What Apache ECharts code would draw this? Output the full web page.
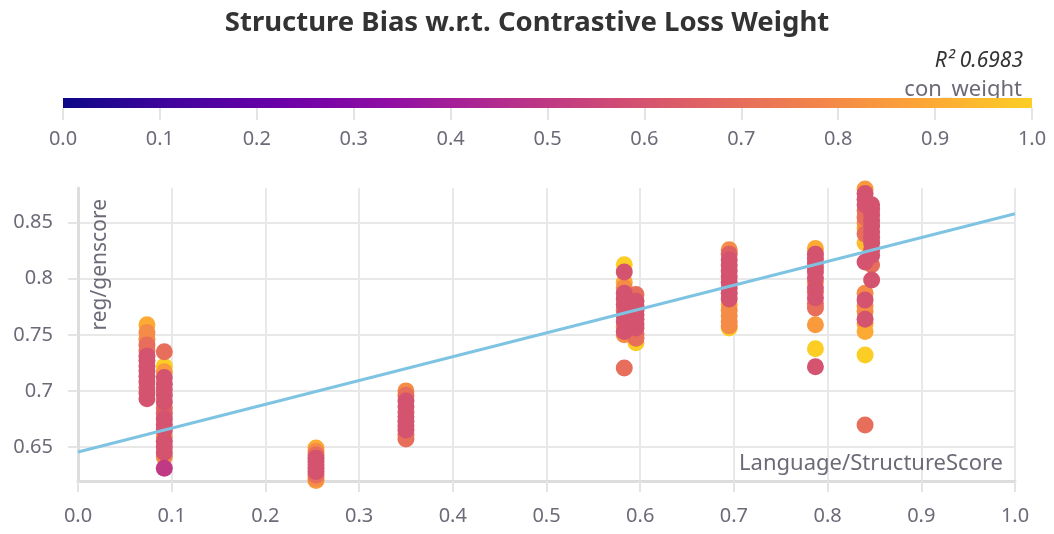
<!DOCTYPE html>
<html>
<head>
<meta charset="utf-8">
<script src="https://cdn.jsdelivr.net/npm/echarts@6/dist/echarts.min.js"></script>
<style>
  html, body { margin: 0; padding: 0; background: #fff; }
  #main { width: 1054px; height: 534px; }
</style>
</head>
<body>
<div id="main"></div>
<script>
// cluster positions (Language/StructureScore) and their points
var clusterX = [0.0736, 0.0921, 0.254, 0.35, 0.583, 0.5955, 0.695, 0.787, 0.840, 0.847];
var clusterY = [
  [0.759, 0.752, 0.746, 0.741, 0.736, 0.731, 0.727, 0.722, 0.718, 0.713, 0.708, 0.703, 0.698, 0.693],
  [0.735, 0.722, 0.717, 0.712, 0.706, 0.701, 0.696, 0.690, 0.685, 0.680, 0.675, 0.670, 0.665, 0.660, 0.655, 0.650, 0.645, 0.641, 0.631],
  [0.649, 0.646, 0.643, 0.640, 0.637, 0.634, 0.631, 0.628, 0.625, 0.622, 0.620],
  [0.700, 0.696, 0.691, 0.686, 0.681, 0.677, 0.673, 0.669, 0.665, 0.661, 0.657],
  [0.8125, 0.806, 0.797, 0.792, 0.787, 0.782, 0.777, 0.772, 0.767, 0.762, 0.757, 0.753, 0.750, 0.7205],
  [0.786, 0.780, 0.776, 0.772, 0.768, 0.764, 0.760, 0.756, 0.751, 0.747, 0.743],
  [0.826, 0.822, 0.817, 0.812, 0.807, 0.802, 0.797, 0.792, 0.787, 0.782, 0.777, 0.772, 0.767, 0.762, 0.758, 0.756],
  [0.827, 0.822, 0.818, 0.814, 0.810, 0.806, 0.801, 0.797, 0.792, 0.788, 0.783, 0.778, 0.774, 0.759, 0.7375, 0.7215],
  [0.880, 0.876, 0.871, 0.866, 0.861, 0.855, 0.850, 0.845, 0.840, 0.832, 0.815, 0.787, 0.781, 0.776, 0.771, 0.764, 0.760, 0.753, 0.732, 0.6696],
  [0.866, 0.862, 0.857, 0.852, 0.847, 0.842, 0.837, 0.832, 0.826, 0.821, 0.8125, 0.799]
];
// con_weight of every point
var clusterW = [
  [0.9, 0.8, 0.8, 0.7, 0.7, 0.6, 0.6, 0.6, 0.6, 0.6, 0.6, 0.65, 0.6, 0.6],
  [0.7, 1.0, 0.85, 0.6, 0.6, 0.6, 0.6, 0.6, 0.7, 0.65, 0.6, 0.6, 0.6, 0.8, 0.6, 0.6, 0.6, 0.8, 0.5],
  [0.9, 0.8, 0.7, 0.6, 0.6, 0.6, 0.6, 0.6, 0.7, 0.8, 0.85],
  [0.8, 0.7, 0.6, 0.6, 0.65, 0.6, 0.6, 0.6, 0.6, 0.7, 0.7],
  [1.0, 0.6, 0.9, 0.8, 0.6, 0.6, 0.6, 0.7, 0.6, 0.6, 0.8, 0.6, 0.8, 0.7],
  [0.7, 0.6, 0.6, 0.6, 0.6, 0.6, 0.6, 0.6, 0.7, 0.7, 1.0],
  [0.8, 0.65, 0.6, 0.6, 0.6, 0.6, 0.6, 0.6, 0.6, 0.6, 0.9, 0.8, 0.8, 0.8, 0.8, 1.0],
  [0.9, 0.6, 0.6, 0.6, 0.6, 0.6, 0.6, 0.8, 0.6, 0.7, 0.6, 0.7, 0.7, 0.85, 1.0, 0.6],
  [0.85, 0.6, 0.6, 0.6, 0.7, 0.7, 0.8, 0.9, 0.7, 0.95, 0.6, 0.8, 0.6, 0.8, 0.8, 0.6, 0.9, 0.9, 1.0, 0.7],
  [0.6, 0.6, 0.6, 0.6, 0.6, 0.6, 0.6, 0.6, 0.6, 0.6, 0.7, 0.6]
];
// regression line ends
var regX = [0, 1];
var regY = [0.6455, 0.858];
var r2 = '0.6983';
var yTicks = [0.65, 0.7, 0.75, 0.8, 0.85];
// plasma, cut at 0.9
var plasma = ['#0d0887', '#41049d', '#6a00a8', '#8f0da4', '#b12a90', '#cc4778', '#e16462', '#f2844b', '#fca636', '#fcce25'];

var points = [];
for (var i = 0; i < clusterX.length; i++) {
  for (var j = 0; j < clusterY[i].length; j++) {
    points.push([clusterX[i], clusterY[i][j], clusterW[i][j]]);
  }
}
points.sort(function (a, b) { return b[2] - a[2]; });

var stops = plasma.map(function (c, k) { return { offset: k / (plasma.length - 1), color: c }; });

var font = 'Noto Sans';
var grey = '#6b6b78';

var myChart = echarts.init(document.getElementById('main'));
var option = {
  animation: false,
  backgroundColor: '#fff',
  textStyle: { fontFamily: font },
  title: {
    text: 'Structure Bias w.r.t. Contrastive Loss Weight',
    left: 'center', top: 4,
    textStyle: { fontFamily: font, fontSize: 27.5, fontWeight: 'bold', color: '#333' }
  },
  grid: [
    { left: 78, right: 39, top: 188, bottom: 53 },
    { left: 63, right: 22, top: 98, height: 10 }
  ],
  visualMap: {
    show: false, type: 'continuous', min: 0, max: 1, dimension: 2, seriesIndex: 0,
    inRange: { color: plasma }
  },
  xAxis: [
    {
      gridIndex: 0, type: 'value', min: 0, max: 1, interval: 0.1,
      axisLine: { show: true, lineStyle: { color: '#dddddd', width: 3 } },
      axisTick: { show: true, length: 11, lineStyle: { color: '#e4e4e4', width: 2 } },
      axisLabel: { color: grey, fontSize: 20, margin: 25, formatter: function (v) { return v.toFixed(1); } },
      splitLine: { show: true, lineStyle: { color: '#e8e8e8', width: 2 } }
    },
    {
      gridIndex: 1, type: 'value', min: 0, max: 1, interval: 0.1,
      axisLine: { show: false },
      axisTick: { show: true, length: 12, lineStyle: { color: '#e4e4e4', width: 2 } },
      axisLabel: { color: grey, fontSize: 20, margin: 21, formatter: function (v) { return v.toFixed(1); } },
      splitLine: { show: false }
    }
  ],
  yAxis: [
    {
      gridIndex: 0, type: 'value', min: 0.6196, max: 0.881,
      axisLine: { show: true, lineStyle: { color: '#dddddd', width: 3 } },
      axisTick: { show: true, length: 10, customValues: yTicks, lineStyle: { color: '#e4e4e4', width: 2 } },
      axisLabel: { color: grey, fontSize: 20, margin: 25, customValues: yTicks, formatter: function (v) { return String(+v.toFixed(2)); } },
      splitLine: { show: true, lineStyle: { color: '#e8e8e8', width: 2 } }
    },
    { gridIndex: 1, type: 'value', min: 0, max: 1, show: false }
  ],
  graphic: [
    { type: 'text', z: 0, right: 31, top: 51, style: { text: 'R\u00b2 ' + r2, font: 'italic 21px ' + font, fill: '#333' } },
    { type: 'text', z: 0, right: 32, top: 79, style: { text: 'con_weight', font: '22px ' + font, fill: grey } },
    { type: 'text', z: 50, x: 100, y: 199, rotation: Math.PI / 2, style: { text: 'reg/genscore', font: '21px ' + font, fill: grey, align: 'right', verticalAlign: 'middle' } },
    { type: 'text', z: 50, x: 1003, y: 464, style: { text: 'Language/StructureScore', font: '22px ' + font, fill: grey, align: 'right', verticalAlign: 'middle' } }
  ],
  series: [
    {
      type: 'scatter', xAxisIndex: 0, yAxisIndex: 0,
      symbolSize: 17, data: points,
      itemStyle: { opacity: 1 }
    },
    {
      type: 'line', xAxisIndex: 0, yAxisIndex: 0,
      data: regX.map(function (x, k) { return [x, regY[k]]; }),
      symbol: 'none', lineStyle: { color: '#7ec4e2', width: 3 }, z: 3
    },
    {
      type: 'custom', xAxisIndex: 1, yAxisIndex: 1, z: 10,
      data: [[0, 1]],
      renderItem: function (params, api) {
        var p0 = api.coord([api.value(0), 0]);
        var p1 = api.coord([api.value(1), 1]);
        return {
          type: 'rect',
          shape: { x: p0[0], y: p1[1], width: p1[0] - p0[0], height: p0[1] - p1[1] },
          style: { fill: new echarts.graphic.LinearGradient(0, 0, 1, 0, stops) }
        };
      }
    }
  ]
};
myChart.setOption(option);
</script>
</body>
</html>
